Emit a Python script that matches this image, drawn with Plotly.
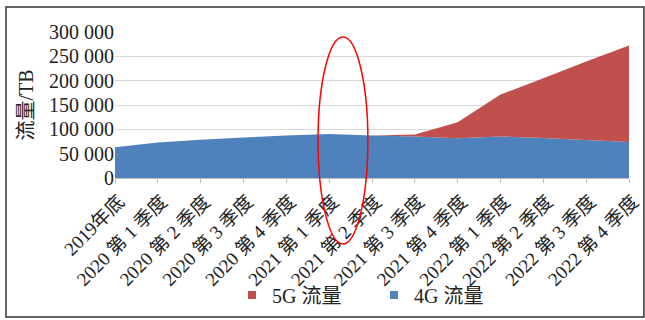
import plotly.graph_objects as go

categories = ["2019年底", "2020 第 1 季度", "2020 第 2 季度", "2020 第 3 季度", "2020 第 4 季度",
              "2021 第 1 季度", "2021 第 2 季度", "2021 第 3 季度", "2021 第 4 季度",
              "2022 第 1 季度", "2022 第 2 季度", "2022 第 3 季度", "2022 第 4 季度"]
traffic_4g = [63000, 73000, 78500, 83000, 87500, 90500, 87500, 85500, 81500, 85500, 82000, 78000, 74000]
traffic_5g = [0, 0, 0, 0, 0, 0, 0, 4000, 33000, 86000, 123000, 161500, 198500]
y_ticks = [0, 50000, 100000, 150000, 200000, 250000, 300000]
y_tick_labels = ["0", "50 000", "100 000", "150 000", "200 000", "250 000", "300 000"]

BLUE = "#4F81BD"
RED = "#C0504D"
FONT = "Liberation Serif, Times New Roman, Noto Sans CJK SC, serif"

fig = go.Figure()
fig.add_trace(go.Scatter(x=categories, y=traffic_4g, mode="none", stackgroup="one",
                         fillcolor=BLUE, name="4G 流量", showlegend=False, hoverinfo="y"))
fig.add_trace(go.Scatter(x=categories, y=traffic_5g, mode="none", stackgroup="one",
                         fillcolor=RED, name="5G 流量", showlegend=False, hoverinfo="y"))
# legend entries with small square markers
fig.add_trace(go.Scatter(x=[None], y=[None], mode="markers", name="5G 流量", legend="legend",
                         marker=dict(symbol="square", size=8, color=RED)))
fig.add_trace(go.Scatter(x=[None], y=[None], mode="markers", name="4G 流量", legend="legend2",
                         marker=dict(symbol="square", size=8, color=BLUE)))

legend_common = dict(orientation="h", xref="container", yref="container",
                     xanchor="left", yanchor="middle", y=0.078,
                     font=dict(size=20), itemwidth=30, bgcolor="rgba(0,0,0,0)")

fig.update_layout(
    width=645, height=320,
    margin=dict(l=115, r=16, t=32, b=142, autoexpand=False),
    paper_bgcolor="white", plot_bgcolor="white",
    font=dict(family=FONT, size=20, color="#222222"),
    showlegend=True,
    legend=dict(x=232 / 645, **legend_common),
    legend2=dict(x=374 / 645, **legend_common),
    xaxis=dict(
        type="category", categoryorder="array", categoryarray=categories,
        range=[0, len(categories) - 1], automargin=False,
        tickangle=-45, tickfont=dict(size=19),
        ticklabelshift=4,
        showline=True, linecolor="#BFBFBF", linewidth=1,
        ticks="outside", ticklen=4, tickcolor="#BFBFBF",
        showgrid=False, zeroline=False,
    ),
    yaxis=dict(
        range=[0, 300000], tickvals=y_ticks, ticktext=y_tick_labels, automargin=False,
        tickfont=dict(size=20), showgrid=True, gridcolor="#D9D9D9", gridwidth=1,
        zeroline=False, showline=False, ticks="",
        title=dict(text="流量/TB", font=dict(size=20), standoff=10),
    ),
    shapes=[
        dict(type="rect", xref="paper", yref="paper",
             x0=-0.212, x1=1.029, y0=-0.952, y1=1.171,
             line=dict(color="#333333", width=1.5), fillcolor="rgba(0,0,0,0)", layer="above"),
        dict(type="circle", xref="paper", yref="paper",
             x0=0.395, x1=0.492, y0=-0.452, y1=0.966,
             line=dict(color="#FF0000", width=1.5), fillcolor="rgba(0,0,0,0)", layer="above"),
    ],
)

fig.write_html("out.html")
